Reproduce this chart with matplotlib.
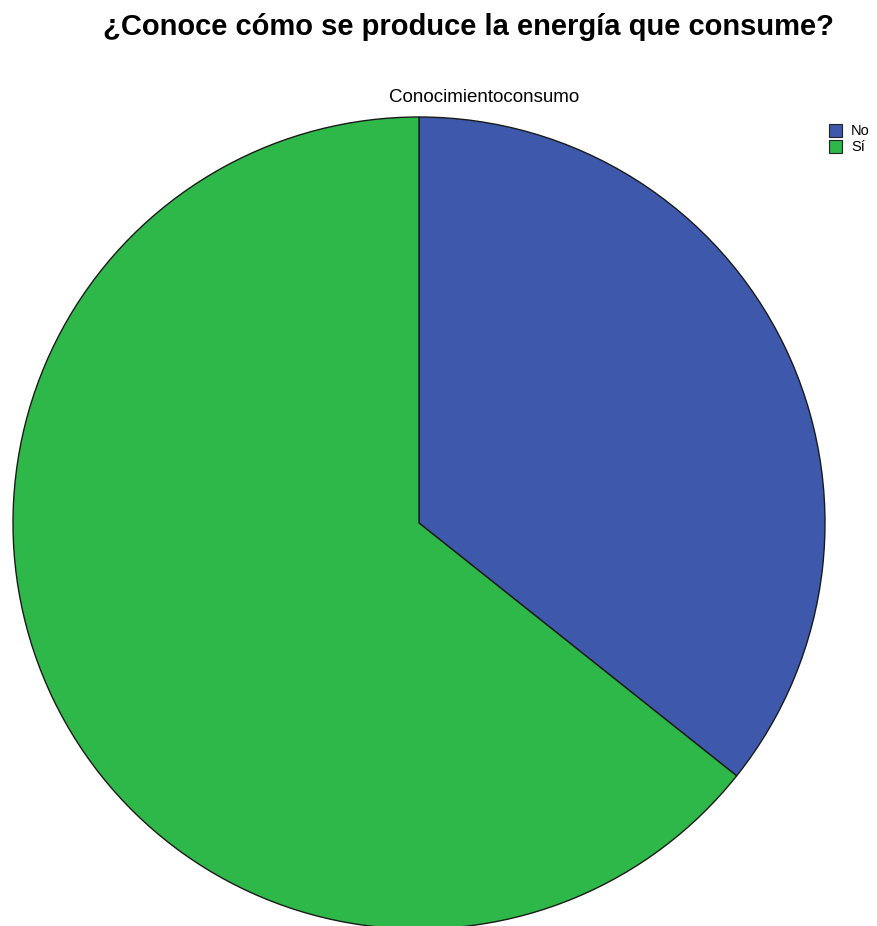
import matplotlib
matplotlib.use("Agg")
import matplotlib.pyplot as plt
from matplotlib.patches import Rectangle

categories = ["No", "Sí"]
values = [35.7, 64.3]
colors = ["#3E58AC", "#2EB84A"]
title = "¿Conoce cómo se produce la energía que consume?"
subtitle = "Conocimientoconsumo"

W, H = 878, 926
fig = plt.figure(figsize=(W / 100, H / 100), dpi=100)
fig.patch.set_facecolor("white")

cx, cy, r = 419, 523, 406
ax = fig.add_axes([(cx - r) / W, (H - cy - r) / H, 2 * r / W, 2 * r / H])
ax.pie(values, colors=colors, startangle=90, counterclock=False, radius=1,
       wedgeprops=dict(edgecolor="#1a1a1a", linewidth=1.0))
ax.set_xlim(-1, 1)
ax.set_ylim(-1, 1)
ax.set_aspect("auto")
ax.axis("off")

fig.text(468 / W, 1 - 27 / H, title, ha="center", va="center",
         fontsize=21, fontweight="bold", family="Liberation Sans")
fig.text(484 / W, 1 - 98 / H, subtitle, ha="center", va="center",
         fontsize=13.5, family="Liberation Sans", fontweight="normal")

# legend
for i, (cat, col) in enumerate(zip(categories, colors)):
    y0 = 124 + i * 16
    fig.patches.append(Rectangle((829 / W, 1 - (y0 + 13) / H), 13 / W, 13 / H,
                                 transform=fig.transFigure, facecolor=col,
                                 edgecolor="#222222", linewidth=0.8))
    fig.text(851 / W, 1 - (y0 + 7) / H, cat, ha="left", va="center",
             fontsize=10.5, family="Liberation Sans")

fig.savefig("out.png", dpi=100)
